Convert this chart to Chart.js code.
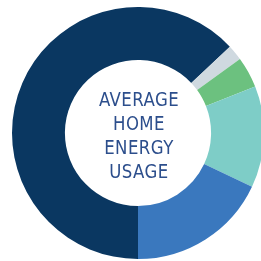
<!DOCTYPE html>
<html>
<head>
<meta charset="utf-8">
<script src="https://cdn.jsdelivr.net/npm/chart.js@4/dist/chart.umd.min.js"></script>
<style>
  html, body { margin: 0; padding: 0; background: #fff; overflow: hidden; width: 261px; height: 261px; }
  #wrap { position: absolute; left: 12px; top: 7px; width: 252px; height: 252px; }
  #label {
    position: absolute; left: 79px; top: 87px; width: 120px;
    text-align: center; color: #2c4e8c;
    font-family: "DejaVu Sans Condensed", sans-serif;
    font-size: 20px; line-height: 24px; letter-spacing: 0.5px;
    transform: scaleX(0.92); transform-origin: 60px 0;
  }
</style>
</head>
<body>
<div id="wrap"><canvas id="chart"></canvas></div>
<div id="label">AVERAGE<br>HOME<br>ENERGY<br>USAGE</div>
<script>
const categories = ['Heating & cooling', 'Other', 'Lighting', 'Appliances', 'Water heating'];
const shares = [63, 2, 4, 13, 18];
const colors = ['#0a3761', '#cfd9e0', '#6cc17f', '#7ecdc7', '#3a78be'];

let ctx = document.getElementById('chart').getContext('2d');

let chart = new Chart(ctx, {
  type: 'doughnut',
  data: {
    labels: categories,
    datasets: [
      {
        data: shares,
        backgroundColor: colors,
        borderWidth: 0
      }
    ]
  },
  options: {
    responsive: true,
    maintainAspectRatio: false,
    animation: false,
    rotation: 180,
    cutout: '58%',
    layout: { padding: 0 },
    plugins: {
      legend: { display: false },
      tooltip: { enabled: false }
    }
  }
});
</script>
</body>
</html>
